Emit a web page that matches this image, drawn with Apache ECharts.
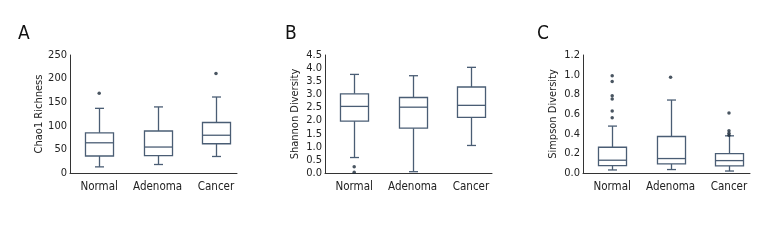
<!DOCTYPE html>
<html>
<head>
<meta charset="utf-8">
<script src="https://cdn.jsdelivr.net/npm/echarts@6/dist/echarts.min.js"></script>
<style>
html,body{margin:0;padding:0;background:#fff;}
#chart{width:780px;height:240px;}
</style>
</head>
<body>
<div id="chart"></div>
<script>
// groups on the x axis
var groups = ['Normal', 'Adenoma', 'Cancer'];

// [x, min, Q1, median, Q3, max]
var chaoBoxes = [
	[1, 13, 36, 64, 85, 137],
	[2, 18, 37, 55, 89, 140],
	[3, 35, 62, 80, 107, 161]
];
var chaoOutliers = [[1, 169], [3, 211]];

var shannonBoxes = [
	[1, 0.59, 1.98, 2.54, 3.02, 3.76],
	[2, 0.05, 1.71, 2.51, 2.88, 3.71],
	[3, 1.05, 2.12, 2.58, 3.28, 4.03]
];
var shannonOutliers = [[1, 0.24], [1, 0.03]];

var simpsonBoxes = [
	[1, 0.031, 0.075, 0.13, 0.262, 0.477],
	[2, 0.035, 0.092, 0.147, 0.371, 0.742],
	[3, 0.02, 0.072, 0.126, 0.198, 0.378]
];
var simpsonOutliers = [
	[1, 0.99], [1, 0.93], [1, 0.786], [1, 0.752], [1, 0.63], [1, 0.561],
	[2, 0.973],
	[3, 0.609], [3, 0.43], [3, 0.405], [3, 0.385]
];

// y axis settings per panel
var yNames = ['Chao1 Richness', 'Shannon Diversity', 'Simpson Diversity'];
var yMax = [250, 4.5, 1.2];
var yStep = [50, 0.5, 0.2];
var yDigits = [0, 1, 1];
var letters = ['A', 'B', 'C'];

var FONT = '"Liberation Sans Narrow", "DejaVu Sans Condensed", "Roboto Condensed", sans-serif';
var BOX = '#4a5d74';
var DOT = '#1c2a3a';
var AXIS = '#333';

var lefts = [70, 325, 583];
var letterLeft = [13, 280, 532];

function renderBox(params, api) {
	var x = api.value(0);
	var pMin = api.coord([x, api.value(1)]);
	var pQ1 = api.coord([x, api.value(2)]);
	var pMed = api.coord([x, api.value(3)]);
	var pQ3 = api.coord([x, api.value(4)]);
	var pMax = api.coord([x, api.value(5)]);
	var half = api.size([1, 0])[0] * 0.24;
	var cap = 4.5;
	var st = {stroke: BOX, lineWidth: 1.3, fill: null};
	var cx = Math.round(pMed[0]) + 0.5;
	return {
		type: 'group',
		children: [
			{type: 'line', shape: {x1: cx, y1: pMax[1], x2: cx, y2: pQ3[1]}, style: st},
			{type: 'line', shape: {x1: cx, y1: pQ1[1], x2: cx, y2: pMin[1]}, style: st},
			{type: 'line', shape: {x1: cx - cap, y1: pMax[1], x2: cx + cap, y2: pMax[1]}, style: st},
			{type: 'line', shape: {x1: cx - cap, y1: pMin[1], x2: cx + cap, y2: pMin[1]}, style: st},
			{type: 'rect', shape: {x: cx - half, y: pQ3[1], width: half * 2, height: pQ1[1] - pQ3[1]},
				style: {stroke: BOX, lineWidth: 1.3, fill: '#fff'}},
			{type: 'line', shape: {x1: cx - half, y1: pMed[1], x2: cx + half, y2: pMed[1]}, style: st}
		]
	};
}

var boxes = [chaoBoxes, shannonBoxes, simpsonBoxes];
var outliers = [chaoOutliers, shannonOutliers, simpsonOutliers];

var grids = [], xAxes = [], yAxes = [], series = [], titles = [];
for (var i = 0; i < 3; i++) {
	grids.push({left: lefts[i], top: 55, width: 167, height: 118});
	titles.push({text: letters[i], left: letterLeft[i], top: 20,
		textStyle: {fontFamily: FONT, fontSize: 19, fontWeight: 'normal', color: '#111'}});
	xAxes.push({
		type: 'value', gridIndex: i, min: 0.5, max: 3.36,
		splitLine: {show: false},
		axisTick: {show: false},
		axisLine: {show: true, onZero: false, lineStyle: {color: AXIS, width: 1}},
		axisLabel: {
			customValues: [1, 2, 3],
			formatter: function (v) { return groups[Math.round(v) - 1]; },
			fontFamily: FONT, fontSize: 11.5, color: '#222', margin: 8
		}
	});
	(function (d) {
		yAxes.push({
			type: 'value', gridIndex: i, min: 0, max: yMax[i], interval: yStep[i],
			name: yNames[i], nameLocation: 'middle', nameGap: 24,
			nameTextStyle: {fontFamily: FONT, fontSize: 11, color: '#222'},
			splitLine: {show: false},
			axisTick: {show: false},
			axisLine: {show: true, lineStyle: {color: AXIS, width: 1}},
			axisLabel: {
				fontFamily: FONT, fontSize: 11, color: '#222', margin: 3,
				formatter: function (v) { return v.toFixed(d); }
			}
		});
	})(yDigits[i]);
	series.push({
		type: 'custom', xAxisIndex: i, yAxisIndex: i,
		renderItem: renderBox,
		encode: {x: 0, y: [1, 2, 3, 4, 5]},
		data: boxes[i],
		silent: true
	});
	series.push({
		type: 'scatter', xAxisIndex: i, yAxisIndex: i,
		symbol: 'circle', symbolSize: 3.5,
		itemStyle: {color: DOT},
		data: outliers[i],
		z: 5, silent: true
	});
}

var chart = echarts.init(document.getElementById('chart'));
chart.setOption({
	animation: false,
	backgroundColor: '#fff',
	title: titles,
	grid: grids,
	xAxis: xAxes,
	yAxis: yAxes,
	series: series
});
</script>
</body>
</html>
